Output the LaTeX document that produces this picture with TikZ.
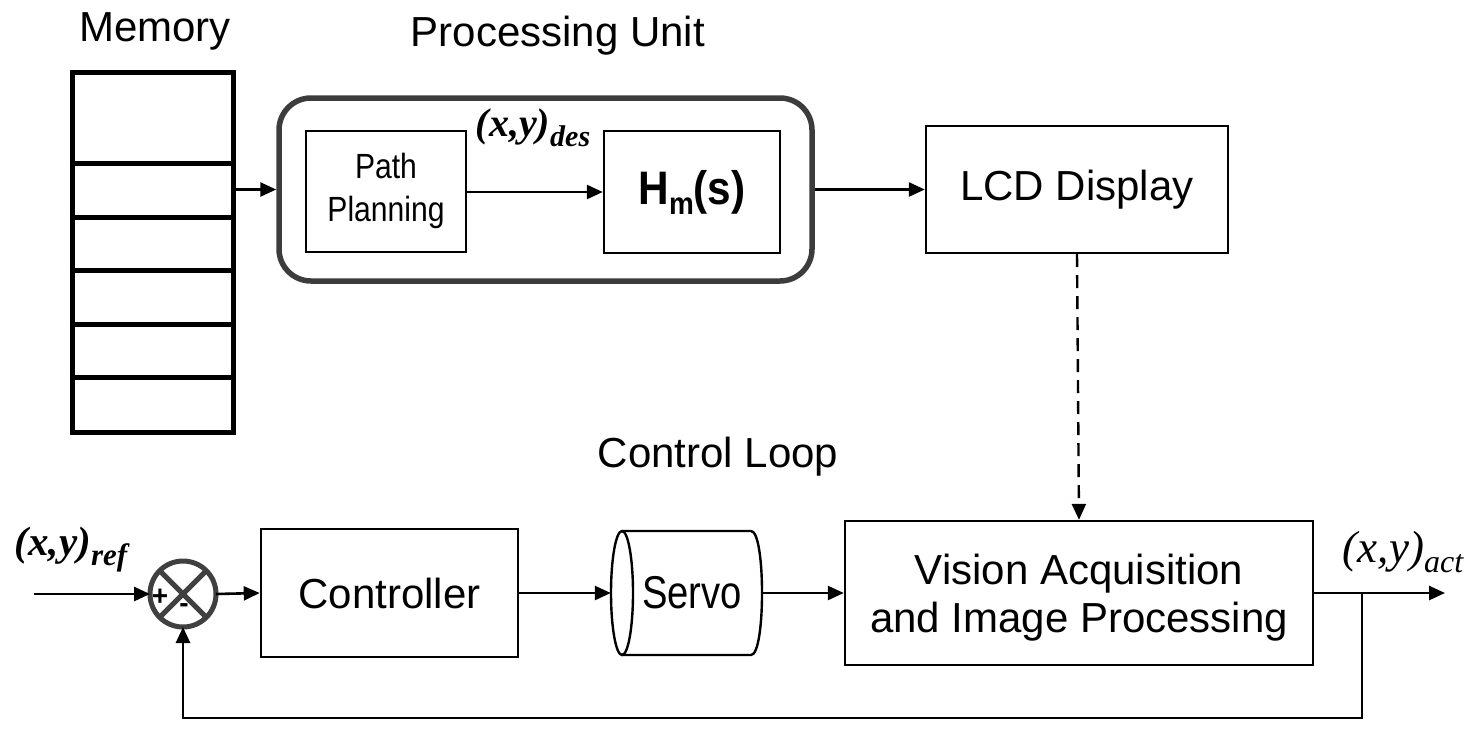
\documentclass[tikz,border=0pt]{standalone}
\usepackage{fontspec}
\usepackage{graphicx}
\setmainfont{Liberation Sans}
\newfontfamily\tnr{Liberation Serif}
\usetikzlibrary{arrows.meta,calc}
\definecolor{sumgray}{RGB}{64,64,64}
\definecolor{pugray}{RGB}{60,60,60}
\begin{document}
\begin{tikzpicture}[x=1pt,y=-1pt,
  tip/.style={-{Triangle[length=16pt,width=14pt]}},
  conn/.style={line width=2.6pt,tip},
  blk/.style={draw,line width=2.4pt,inner sep=0pt,align=center},
  lbl/.style={font=\fontsize{42}{48}\selectfont},
]
\useasboundingbox (0,0) rectangle (1474,753);

% titles
\node[lbl,anchor=base] (tmem) at (155,41) {Memory};
\node[lbl,anchor=base] (tpu) at (558,46) {Processing Unit};
\node[lbl,anchor=base] (tcl) at (718,467) {Control Loop};

% memory
\node[draw,line width=5pt,minimum width=161pt,minimum height=360pt,inner sep=0pt] (mem) at (152.5,252) {};
\foreach \yy in {163,217,270,324,377}
  \draw[line width=5pt] (mem.west |- 0,\yy) -- (mem.east |- 0,\yy);

% processing unit
\node[draw=pugray,line width=5.5pt,rounded corners=32pt,minimum width=533pt,minimum height=183pt,inner sep=0pt] (pu) at (545.5,189.5) {};
\node[blk,line width=2pt,minimum width=160pt,minimum height=121pt] (pp) at (386,191.5) {\scalebox{0.86}[1]{\fontsize{35}{43}\selectfont\begin{tabular}{@{}c@{}}Path\\Planning\end{tabular}}};
\node[blk,minimum width=176pt,minimum height=122pt] (hm) at (692,192) {\scalebox{0.9}[1]{\fontsize{47}{50}\selectfont\bfseries H\raisebox{-10pt}{\fontsize{31}{31}\selectfont m}(s)}};
\node (des) at (533,128) {\tnr\fontsize{40}{42}\selectfont\bfseries\itshape (x,y)\raisebox{-10pt}{\fontsize{30}{30}\selectfont des}};

\node[blk,lbl,minimum width=302pt,minimum height=127pt] (lcd) at (1077,189.5) {LCD Display};

\draw[conn] (mem.east |- pu.west) -- (pu.west);
\draw[conn] (pp.east |- hm.west) -- (hm.west);
\draw[conn] (pu.east) -- (lcd.west);

% control loop
\node[circle,draw=sumgray,line width=5pt,minimum size=66pt,inner sep=0pt,outer sep=0pt] (sum) at (183,594) {};
\draw[sumgray,line width=5pt] (sum.north west) -- (sum.south east) (sum.north east) -- (sum.south west);
\node[font=\fontsize{28}{28}\selectfont\bfseries] (plus) at (160,597) {+};
\node[font=\fontsize{28}{28}\selectfont\bfseries] (minus) at (184,608) {-};

\node[blk,lbl,line width=2.6pt,minimum width=257pt,minimum height=128pt] (ctrl) at (389.5,593) {Controller};

\node[minimum width=151pt,minimum height=124pt,inner sep=0pt] (servo) at (686.5,593) {};
\draw[line width=2.4pt] (622,593) ellipse [x radius=11, y radius=62];
\draw[line width=2.4pt] (622,531) -- (751,531) .. controls (765.7,531) and (765.7,655) .. (751,655) -- (622,655);
\node (servotxt) at (692,593) {\scalebox{0.83}[1]{\fontsize{46}{48}\selectfont Servo}};

\node[blk,lbl,minimum width=468pt,minimum height=144pt] (vis) at (1079,593) {\rule{0pt}{40pt}Vision Acquisition\\and Image Processing};

\draw[line width=2.4pt,dash pattern=on 13pt off 8pt,tip] (lcd.south) -- (vis.north);

\coordinate (in) at (34,594);
\coordinate (br) at (1362,593);
\coordinate (out) at (1445,593);
\coordinate (fb) at (1362,718);

\draw[conn] (in) -- (sum.west);
\draw[conn] (sum.east) -- (ctrl.west);
\draw[conn] (ctrl.east) -- (servo.west);
\draw[conn] (servo.east) -- (vis.west);
\draw[conn] (vis.east) -- (out);
\draw[conn] (br) -- (fb) -| (sum.south);

\node (ref) at (71,550) {\tnr\fontsize{41}{43}\selectfont\bfseries\itshape (x,y)\raisebox{-10pt}{\fontsize{31}{31}\selectfont ref}};
\node (act) at (1403,552) {\tnr\fontsize{45}{47}\selectfont\itshape (x,y)\raisebox{-10pt}{\fontsize{32}{32}\selectfont act}};
\end{tikzpicture}
\end{document}
